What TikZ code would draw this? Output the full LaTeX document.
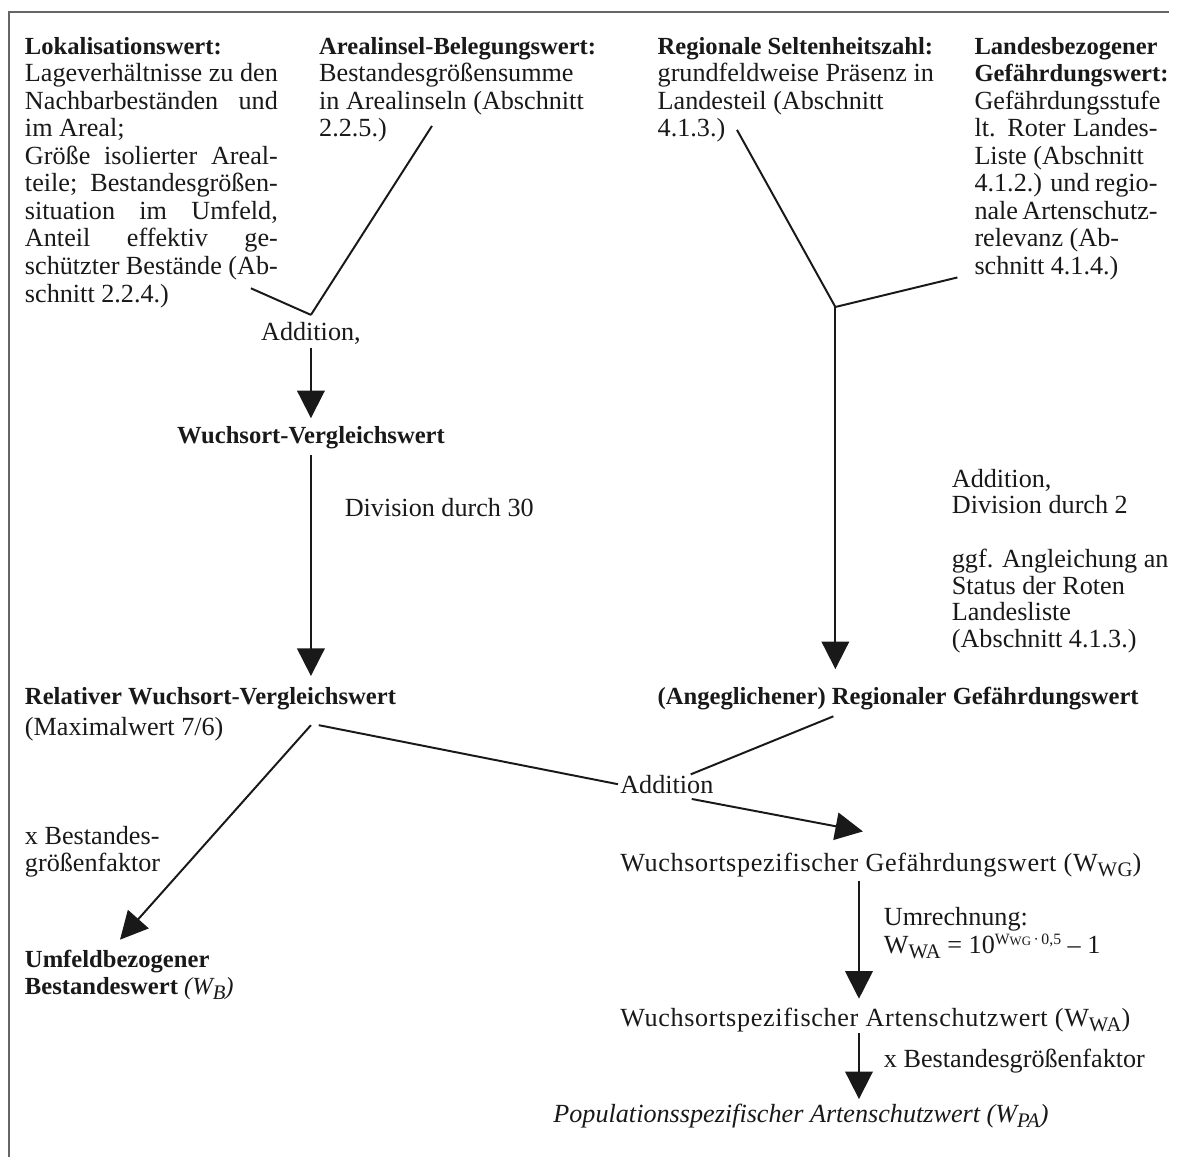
\documentclass[tikz,border=0pt]{standalone}
\usepackage{fontspec}
\setmainfont{Liberation Serif}
\usetikzlibrary{arrows.meta}
\definecolor{ink}{gray}{0.1}
\newcommand\rg{\fontsize{13.3}{14}\selectfont\mdseries\upshape}
\newcommand\rgb{\fontsize{13.3}{13.5}\selectfont\mdseries\upshape}
\newcommand\bd{\fontsize{12.5}{14}\selectfont\bfseries}
\newcommand\jl[1]{\makebox[\linewidth][s]{#1}}
\newcommand\sbx[1]{\raisebox{-0.4ex}{\fontsize{10.5}{10.5}\selectfont #1}}
\newcommand\wide{\addfontfeature{LetterSpace=2.5}}
\begin{document}
\begin{tikzpicture}[x=0.5pt,y=-0.5pt,
  txt/.style={inner sep=0pt, anchor=base west, text=ink, font=\rg},
  ctxt/.style={inner sep=0pt, anchor=base, text=ink, font=\rg},
  conn/.style={draw=ink, line width=1pt},
  arr/.style={conn, -{Triangle[length=14pt,width=14pt]}},
  frame/.style={draw=black!60, line width=1.3pt}]
\path[fill=white] (0,0) rectangle (1188,1176);
\draw[frame] (9,1176) -- (9,12) -- (1188,12);

% top blocks
\node[txt] (lok) at (25,55) {\parbox[t]{128.5pt}{\bd Lokalisationswert:\\\rg
 \jl{Lageverhältnisse zu den}\\
 \jl{Nachbarbeständen und}\\
 im Areal;\\
 \jl{Größe isolierter Areal-}\\
 \jl{teile; Bestandesgrößen-}\\
 \jl{situation im Umfeld,}\\
 \jl{Anteil effektiv ge-}\\
 \jl{schützter Bestände (Ab-}\\
 schnitt 2.2.4.)}};
\node[txt] (are) at (324,55) {\parbox[t]{170pt}{\bd Arealinsel-Belegungswert:\\\rg
 Bestandesgrößensumme\\
 in Arealinseln (Abschnitt\\
 2.2.5.)}};
\node[txt] (sel) at (668,55) {\parbox[t]{170pt}{\bd Regionale Seltenheitszahl:\\\rg
 grundfeldweise Präsenz in\\
 Landesteil (Abschnitt\\
 4.1.3.)}};
\node[txt] (lan) at (990,55) {\parbox[t]{93pt}{\bd Landesbezogener\\
 Gefährdungswert:\\\rg
 Gefährdungsstufe\\
 \jl{lt. Roter Landes-}\\
 Liste (Abschnitt\\
 \jl{4.1.2.) und regio-}\\
 \jl{nale Artenschutz-}\\
 relevanz (Ab-\\
 schnitt 4.1.4.)}};

% left column
\node[ctxt] (add1) at (316,346) {Addition,};
\node[ctxt, font=\bd] (wv) at (316,451) {Wuchsort-Vergleichswert};
\node[txt] (div30) at (350,525) {Division durch 30};
\node[txt, font=\bd] (rel) at (25,716) {Relativer Wuchsort-Vergleichswert};
\node[txt] (relmax) at (25,748) {(Maximalwert 7/6)};
\node[txt] (xb) at (25,858) {\parbox[t]{150pt}{\rg x Bestandes-\\größenfaktor}};
\node[txt] (umf) at (25,983) {\parbox[t]{200pt}{\bd Umfeldbezogener\\
 Bestandeswert \textnormal{\itshape (W\sbx{B})}}};

% right column
\node[txt] (regadd) at (967,495) {\parbox[t]{120pt}{\rgb Addition,\\Division durch 2}};
\node[txt] (ggf) at (967,577) {\parbox[t]{120pt}{\rgb ggf. Angleichung an\\Status der Roten\\Landesliste\\(Abschnitt 4.1.3.)}};
\node[txt, font=\bd] (reg) at (668,716) {(Angeglichener) Regionaler Gefährdungswert};
\node[txt] (add2) at (630,806) {Addition};
\node[txt] (wwg) at (630,886) {\wide Wuchsortspezifischer Gefährdungswert (W\sbx{WG})};
\node[txt] (umr) at (898,941) {\parbox[t]{150pt}{\rg Umrechnung:\\
 W\sbx{WA} = 10\raisebox{0.75ex}{\fontsize{8}{8}\selectfont W\raisebox{-0.15ex}{\fontsize{6.5}{6.5}\selectfont WG}\,·\,0,5} – 1}};
\node[txt] (wwa) at (630,1043) {\wide Wuchsortspezifischer Artenschutzwert (W\sbx{WA})};
\node[txt] (xbf) at (898,1085) {x Bestandesgrößenfaktor};
\node[txt, font=\rg\itshape] (pop) at (562,1141) {Populationsspezifischer Artenschutzwert (W\sbx{PA})};

% junction points
\coordinate (c1) at (255,293);
\coordinate (c2) at (439,128);
\coordinate (j1) at (316,320);
\coordinate (a1s) at (316,354);
\coordinate (a1e) at (316,425);
\coordinate (a2s) at (316,462);
\coordinate (a2e) at (316,687);
\coordinate (r1) at (316,737);
\coordinate (r2) at (324,737);
\coordinate (umft) at (122,955);
\coordinate (ad2l) at (628,797);
\coordinate (ad2t) at (702,787);
\coordinate (ad2r) at (703,812);
\coordinate (regl) at (847,728);
\coordinate (wwgt) at (877,845);
\coordinate (s1) at (749,132);
\coordinate (s2) at (973,282);
\coordinate (jr) at (849,312);
\coordinate (jre) at (849,680);
\coordinate (b1s) at (873,895);
\coordinate (b1e) at (873,1015);
\coordinate (b2s) at (873,1050);
\coordinate (b2e) at (873,1117);

\draw[conn] (c1) -- (j1);
\draw[conn] (c2) -- (j1);
\draw[arr] (a1s) -- (a1e);
\draw[arr] (a2s) -- (a2e);
\draw[arr] (r1) -- (umft);
\draw[conn] (r2) -- (ad2l);
\draw[conn] (regl) -- (ad2t);
\draw[arr] (ad2r) -- (wwgt);
\draw[conn] (s1) -- (jr) -- (s2);
\draw[arr] (jr) -- (jre);
\draw[arr] (b1s) -- (b1e);
\draw[arr] (b2s) -- (b2e);
\end{tikzpicture}
\end{document}
